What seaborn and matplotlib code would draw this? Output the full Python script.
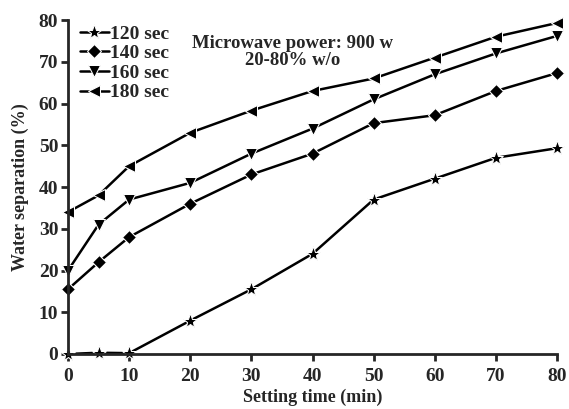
import seaborn as sns
import matplotlib.pyplot as plt
import pandas as pd

# Water separation vs setting time for different microwave exposure times
setting_time = [0, 5, 10, 20, 30, 40, 50, 60, 70, 80]
sep_120 = [0, 0.3, 0.2, 8, 15.5, 24, 37, 42, 47, 49.3]
sep_140 = [15.5, 22, 28, 36, 43, 48, 55.3, 57.2, 63, 67.3]
sep_160 = [20, 31, 37, 41, 48, 54, 61, 67, 72, 76.2]
sep_180 = [34, 38, 45, 53, 58.3, 63, 66, 71, 76, 79.3]
series_names = ['120 sec', '140 sec', '160 sec', '180 sec']

df = pd.DataFrame({
    'time': setting_time * 4,
    'sep': sep_120 + sep_140 + sep_160 + sep_180,
    'series': [n for n in series_names for _ in setting_time],
})

sns.set_style('ticks')
plt.rcParams['font.family'] = ['Liberation Serif', 'DejaVu Serif']
plt.rcParams['font.weight'] = 'bold'

fig = plt.figure(figsize=(5.69, 4.09), dpi=100)
ax = fig.add_axes([0.1195, 0.1345, 0.8595, 0.8165])

markers = {'120 sec': '*', '140 sec': 'D', '160 sec': 'v', '180 sec': '<'}
sizes = {'120 sec': 11, '140 sec': 7, '160 sec': 8.5, '180 sec': 8.5}
sns.lineplot(data=df, x='time', y='sep', style='series', markers=markers,
             dashes=False, color='black', linewidth=1.8, ax=ax)
for line, name in zip(ax.lines, series_names):
    line.set_markersize(sizes[name])
    line.set_clip_on(False)

ax.set_xlim(0, 80)
ax.set_ylim(0, 80)
ax.set_xticks(range(0, 81, 10))
ax.set_yticks(range(0, 81, 10))
sns.despine(ax=ax)
for s in ['left', 'bottom']:
    ax.spines[s].set_linewidth(2)
ax.tick_params(width=2, length=5, labelsize=14)
ax.tick_params(axis='x', pad=5)
ax.tick_params(axis='y', pad=2)
for lbl in ax.get_xticklabels() + ax.get_yticklabels():
    lbl.set_fontweight('bold')

ax.set_xlabel('Setting time (min)', fontsize=13, fontweight='bold', labelpad=3)
ax.set_ylabel('Water separation (%)', fontsize=13, fontweight='bold', labelpad=7)

leg = ax.legend(loc='upper left', bbox_to_anchor=(0.0, 1.02), frameon=False,
                fontsize=14, handlelength=1.5, handletextpad=0.05,
                labelspacing=0.1, borderaxespad=0.2)
for h, name in zip(leg.legend_handles, series_names):
    h.set_markersize(sizes[name])

ax.text(0.46, 0.955, 'Microwave power: 900 w\n20-80% w/o', transform=ax.transAxes,
        ha='center', va='top', fontsize=13.5, fontweight='bold', linespacing=1.0)

fig.savefig('out.png', dpi=100)
